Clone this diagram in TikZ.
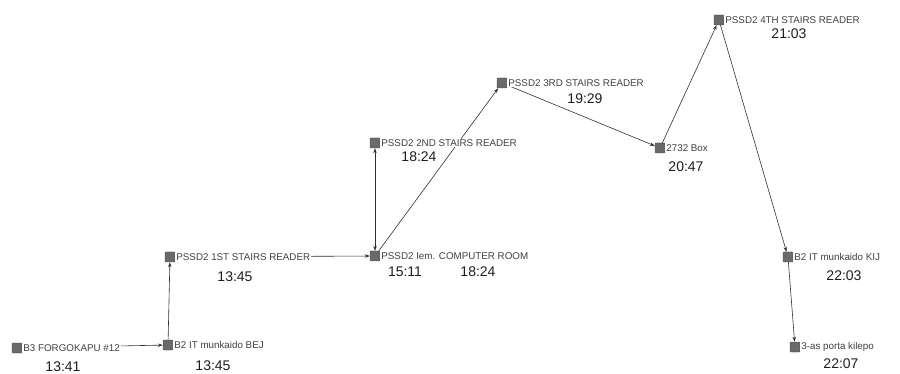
\documentclass[tikz,border=0pt]{standalone}
\usepackage{fontspec}
\setmainfont{Liberation Sans}
\usetikzlibrary{positioning,arrows.meta}
\definecolor{boxgrey}{HTML}{6A6A6A}
\definecolor{boxedge}{HTML}{3C3C3C}
\definecolor{linegrey}{HTML}{303030}
\definecolor{labelgrey}{HTML}{404040}
\definecolor{timegrey}{HTML}{1E1E1E}

\begin{document}
\begin{tikzpicture}[
  x=1pt, y=-1pt,
  reader/.style={draw=boxedge, fill=boxgrey, minimum size=10pt,
                 inner sep=0pt, rounded corners=0.8pt},
  lbl/.style={fill=white, inner sep=1pt, text=labelgrey,
              font=\fontsize{9.8}{10}\selectfont},
  tm/.style={inner sep=0pt, text=timegrey, font=\fontsize{14}{14}\selectfont},
  link/.style={draw=linegrey, line width=0.6pt, ->},
  >={Stealth[length=5pt,width=3.5pt]}
]
\useasboundingbox (0,0) rectangle (900,374);

% readers
\node[reader] (b3)    at (17,348)  {};
\node[reader] (bej)   at (168,345) {};
\node[reader] (st1)   at (170,257) {};
\node[reader] (comp)  at (375,256) {};
\node[reader] (st2)   at (375,143) {};
\node[reader] (st3)   at (502,83)  {};
\node[reader] (box)   at (660,148) {};
\node[reader] (st4)   at (719,20)  {};
\node[reader] (kij)   at (788,257) {};
\node[reader] (porta) at (795,347) {};

% path
\draw[link] (b3)   -- (bej);
\draw[link] (bej)  -- (st1);
\draw[link] (st1)  -- (comp);
\draw[link, <->] (comp) -- (st2);
\draw[link] (comp) -- (st3);
\draw[link] (st3)  -- (box);
\draw[link] (box)  -- (st4);
\draw[link] (st4)  -- (kij);
\draw[link] (kij)  -- (porta);

% reader names
\node[lbl, right=0pt of b3]    (b3name)    {B3 FORGOKAPU \#12};
\node[lbl, right=0pt of bej]   (bejname)   {B2 IT munkaido BEJ};
\node[lbl, right=0pt of st1]   (st1name)   {PSSD2 1ST STAIRS READER};
\node[lbl, right=0pt of comp]  (compname)  {PSSD2 Iem. COMPUTER ROOM};
\node[lbl, right=0pt of st2]   (st2name)   {PSSD2 2ND STAIRS READER};
\node[lbl, right=0pt of st3]   (st3name)   {PSSD2 3RD STAIRS READER};
\node[lbl, right=0pt of box]   (boxname)   {2732 Box};
\node[lbl, right=0pt of st4]   (st4name)   {PSSD2 4TH STAIRS READER};
\node[lbl, right=0pt of kij]   (kijname)   {B2 IT munkaido KIJ};
\node[lbl, right=0pt of porta] (portaname) {3-as porta kilepo};

% times
\node[tm] (t1)  at (63,367)  {13:41};
\node[tm] (t2)  at (213,366) {13:45};
\node[tm] (t3)  at (235,277) {13:45};
\node[tm] (t4)  at (405,272) {15:11};
\node[tm] (t5)  at (478,272) {18:24};
\node[tm] (t6)  at (419,157) {18:24};
\node[tm] (t7)  at (585,99)  {19:29};
\node[tm] (t8)  at (686,167) {20:47};
\node[tm] (t9)  at (789,34)  {21:03};
\node[tm] (t10) at (844,276) {22:03};
\node[tm] (t11) at (841,364) {22:07};
\end{tikzpicture}
\end{document}
